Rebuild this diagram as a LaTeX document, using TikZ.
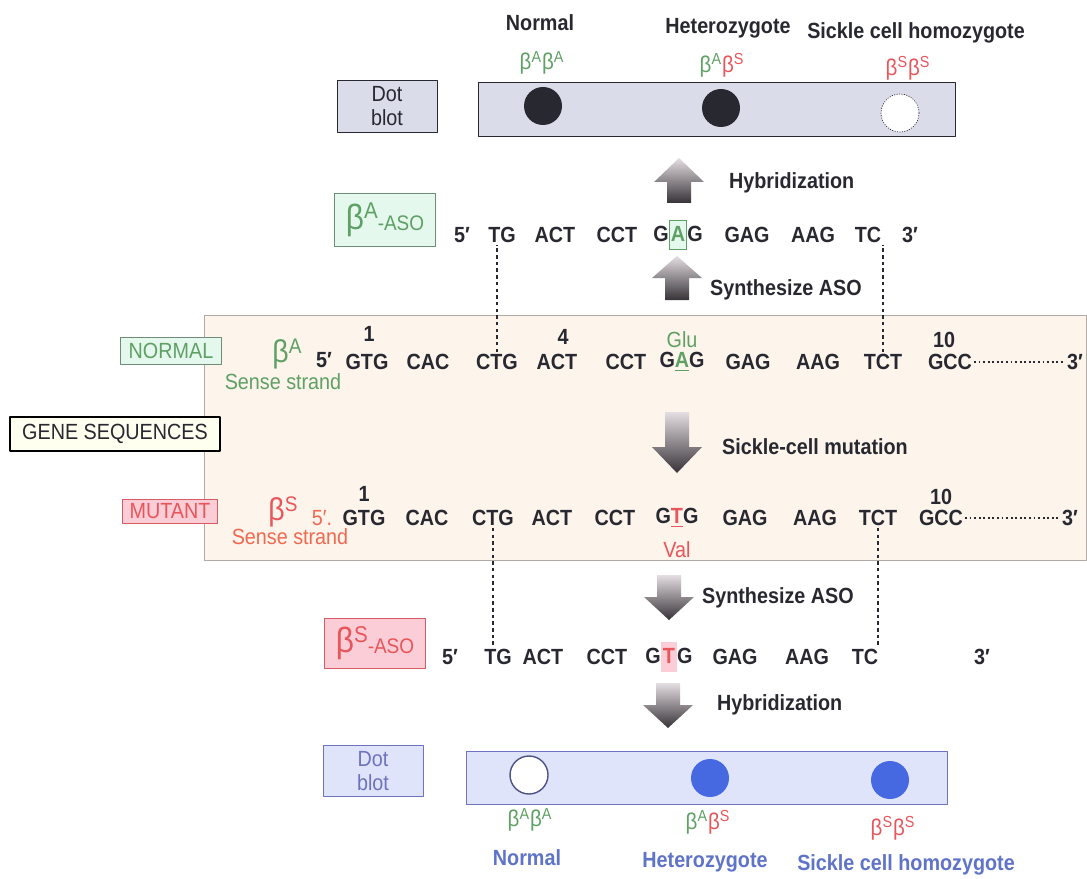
\documentclass[tikz,border=0pt]{standalone}
\usepackage{fontspec}
\setmainfont{Liberation Sans}[FakeStretch=0.9]
\setlength{\fboxsep}{0.6pt}
\setlength{\fboxrule}{0.6pt}
\begin{document}
\begin{tikzpicture}[x=0.02cm, y=-0.02cm, line cap=round, line join=round,
    font=\fontsize{12.5}{14}\selectfont,
    seq/.style={font=\fontsize{12.5}{14}\selectfont\bfseries, text=ink, inner sep=1pt},
    tag/.style={draw, inner sep=1pt, align=center},
    fatarrow/.style={top color=arrowtop, bottom color=arrowbot},
    dashline/.style={dash pattern=on 2pt off 1.8pt, line width=1pt, line cap=butt},
    dotline/.style={dash pattern=on 1pt off 1.6pt, line width=0.9pt, line cap=butt}]
  \definecolor{ink}{RGB}{40,40,48}
  \definecolor{betagreen}{RGB}{95,160,100}
  \definecolor{betared}{RGB}{232,85,90}
  \definecolor{sensered}{RGB}{240,105,80}
  \definecolor{greenfill}{RGB}{228,248,238}
  \definecolor{greenedge}{RGB}{110,140,120}
  \definecolor{pinkfill}{RGB}{250,205,215}
  \definecolor{rededge}{RGB}{215,90,100}
  \definecolor{blotgray}{RGB}{218,220,234}
  \definecolor{blotblue}{RGB}{224,228,250}
  \definecolor{blueedge}{RGB}{110,115,190}
  \definecolor{bluetext}{RGB}{95,115,200}
  \definecolor{bluedot}{RGB}{70,105,225}
  \definecolor{seqbg}{RGB}{253,244,236}
  \definecolor{seqedge}{RGB}{175,170,165}
  \definecolor{genebg}{RGB}{255,255,240}
  \definecolor{arrowtop}{RGB}{228,222,226}
  \definecolor{arrowbot}{RGB}{55,50,55}
  \useasboundingbox (0,0) rectangle (1087,878);

  % gene sequence panel
  \draw[seqedge, fill=seqbg] (204,315) rectangle (1086,560);

  % upper dot blot
  \node[tag, fill=blotgray, draw=ink, text=ink, minimum width=2cm, minimum height=1.04cm] (blotA) at (387,106) {Dot\\blot};
  \draw[ink, fill=blotgray] (478,82) rectangle (955,136);
  \fill[ink] (543,106) circle (19);
  \fill[ink] (721,108) circle (19);
  \draw[ink, fill=white, densely dotted] (900,113) circle (19);
  \node[font=\fontsize{12.5}{14}\selectfont\bfseries, text=ink] (topN) at (540,23) {Normal};
  \node[font=\fontsize{12.5}{14}\selectfont\bfseries, text=ink] (topH) at (728,28) {Heterozygote};
  \node[font=\fontsize{12.5}{14}\selectfont\bfseries, text=ink] (topS) at (916,33) {Sickle cell homozygote};
  \node[font=\fontsize{13}{14}\selectfont] (topAA) at (542,63) {\textcolor{betagreen}{β\textsuperscript{A}β\textsuperscript{A}}};
  \node[font=\fontsize{13}{14}\selectfont] (topAS) at (722,65) {\textcolor{betagreen}{β\textsuperscript{A}}\textcolor{betared}{β\textsuperscript{S}}};
  \node[font=\fontsize{13}{14}\selectfont] (topSS) at (908,68) {\textcolor{betared}{β\textsuperscript{S}β\textsuperscript{S}}};

  % block arrows
  \foreach \x/\a/\b/\c in {679/158/182/203, 677/256/278/300}
    \shade[fatarrow] (\x,\a) -- (\x+25,\b) -- (\x+12,\b) -- (\x+12,\c) -- (\x-12,\c) -- (\x-12,\b) -- (\x-25,\b) -- cycle;
  \foreach \x/\a/\b/\c in {677/412/447/473, 669/575/597/620, 668/683/705/728}
    \shade[fatarrow] (\x-12,\a) -- (\x+12,\a) -- (\x+12,\b) -- (\x+25,\b) -- (\x,\c) -- (\x-25,\b) -- (\x-12,\b) -- cycle;
  \node[seq, anchor=west] (hybA) at (727,183) {Hybridization};
  \node[seq, anchor=west] (synA) at (708,290) {Synthesize ASO};
  \node[seq, anchor=west] (mut) at (720,447) {Sickle-cell mutation};
  \node[seq, anchor=west] (synS) at (700,598) {Synthesize ASO};
  \node[seq, anchor=west] (hybS) at (715,705) {Hybridization};

  % beta-A ASO
  \node[tag, fill=greenfill, draw=greenedge, text=betagreen, minimum width=2.02cm, minimum height=1.06cm] (asoA) at (385,220)
    {\fontsize{20}{20}\selectfont β\raisebox{0.3em}{\fontsize{13}{13}\selectfont A}\raisebox{-0.02em}{\fontsize{12}{12}\selectfont -ASO}};
  \foreach \c/\x [count=\i] in {5′/462, TG/502, ACT/555, CCT/617,
      G\fcolorbox{betagreen}{greenfill}{\rule[-4pt]{0pt}{15pt}\textcolor{betagreen}{A}}G/678,
      GAG/747, AAG/813, TC/868, 3′/910}
    \node[seq] (a\i) at (\x,235) {\c};

  % normal and mutant strands
  \node[tag, fill=greenfill, draw=greenedge, text=betagreen, minimum width=2.02cm, minimum height=0.54cm] (normal) at (171,351) {NORMAL};
  \node[tag, fill=genebg, draw=black, thick, text=ink, minimum width=4.2cm, minimum height=0.68cm] (gene) at (115,434) {GENE SEQUENCES};
  \node[tag, fill=pinkfill, draw=rededge, text=betared, minimum width=1.9cm, minimum height=0.48cm] (mutant) at (170,511) {MUTANT};

  \node[text=betagreen] (betaA) at (287,354) {\fontsize{18}{18}\selectfont β\raisebox{0.3em}{\fontsize{12}{12}\selectfont A}};
  \node[text=betagreen] (senseA) at (283,382) {Sense strand};
  \node[seq] (n0) at (324,360) {5′};
  \foreach \c/\x [count=\i] in {GTG/367, CAC/428, CTG/497, ACT/557, CCT/626,
      G{\color{betagreen}\underline{A}}G/682, GAG/748, AAG/818, TCT/883, GCC/950}
    \node[seq] (n\i) at (\x,362) {\c};
  \node[seq] (nend) at (1075,362) {3′};
  \draw[dotline, ink] (n10.east) -- (nend.west);
  \node[seq] (nnum1) at (369,334) {1};
  \node[seq] (nnum4) at (563,337) {4};
  \node[seq] (nnum10) at (944,340) {10};
  \node[text=betagreen, inner sep=0pt] (glu) at (682,340) {Glu};

  \node[text=betared] (betaS) at (283,512) {\fontsize{18}{18}\selectfont β\raisebox{0.3em}{\fontsize{12}{12}\selectfont S}};
  \node[text=sensered] (senseS) at (290,537) {Sense strand};
  \node[text=sensered, inner sep=1pt] (m0) at (322,518) {5′.};
  \foreach \c/\x [count=\i] in {GTG/364, CAC/427, CTG/493, ACT/552, CCT/615,
      G{\color{betared}\underline{T}}G/677, GAG/745, AAG/815, TCT/878, GCC/941}
    \node[seq] (m\i) at (\x,518) {\c};
  \node[seq] (mend) at (1070,518) {3′};
  \draw[dotline, ink] (m10.east) -- (mend.west);
  \node[seq] (mnum1) at (364,494) {1};
  \node[seq] (mnum10) at (941,497) {10};
  \node[text=betared] (val) at (677,550) {Val};

  % beta-S ASO
  \node[tag, fill=pinkfill, draw=rededge, text=betared, minimum width=2.02cm, minimum height=1cm] (asoS) at (375,643)
    {\fontsize{20}{20}\selectfont β\raisebox{0.3em}{\fontsize{13}{13}\selectfont S}\raisebox{-0.02em}{\fontsize{12}{12}\selectfont -ASO}};
  \foreach \c/\x [count=\i] in {5′/450, TG/498, ACT/543, CCT/607,
      G\fcolorbox{pinkfill}{pinkfill}{\rule[-4pt]{0pt}{15pt}\textcolor{betared}{T}}G/669,
      GAG/735, AAG/807, TC/865, 3′/982}
    \node[seq] (s\i) at (\x,657) {\c};

  % dashed alignment lines
  \draw[dashline, ink] (n3.north) -- (n3.north |- a2.south);
  \draw[dashline, ink] (n9.north) -- (n9.north |- a8.south);
  \draw[dashline, ink] (m3.south) -- (m3.south |- s2.north);
  \draw[dashline, ink] (m9.south) -- (m9.south |- s8.north);

  % lower dot blot
  \node[tag, fill=blotblue, draw=blueedge, text=blueedge, minimum width=2cm, minimum height=1.02cm] (blotS) at (373,771) {Dot\\blot};
  \draw[blueedge, fill=blotblue] (466,751) rectangle (947,804);
  \draw[blueedge!70!black, fill=white, thick] (529,775) circle (19);
  \fill[bluedot] (710,778) circle (19);
  \fill[bluedot] (890,780) circle (19);
  \node[font=\fontsize{13}{14}\selectfont] (botAA) at (530,820) {\textcolor{betagreen}{β\textsuperscript{A}β\textsuperscript{A}}};
  \node[font=\fontsize{13}{14}\selectfont] (botAS) at (708,822) {\textcolor{betagreen}{β\textsuperscript{A}}\textcolor{betared}{β\textsuperscript{S}}};
  \node[font=\fontsize{13}{14}\selectfont] (botSS) at (893,828) {\textcolor{betared}{β\textsuperscript{S}β\textsuperscript{S}}};
  \node[text=bluetext, font=\fontsize{12.5}{14}\selectfont\bfseries] (botN) at (527,858) {Normal};
  \node[text=bluetext, font=\fontsize{12.5}{14}\selectfont\bfseries] (botH) at (705,862) {Heterozygote};
  \node[text=bluetext, font=\fontsize{12.5}{14}\selectfont\bfseries] (botS) at (906,865) {Sickle cell homozygote};
\end{tikzpicture}
\end{document}
